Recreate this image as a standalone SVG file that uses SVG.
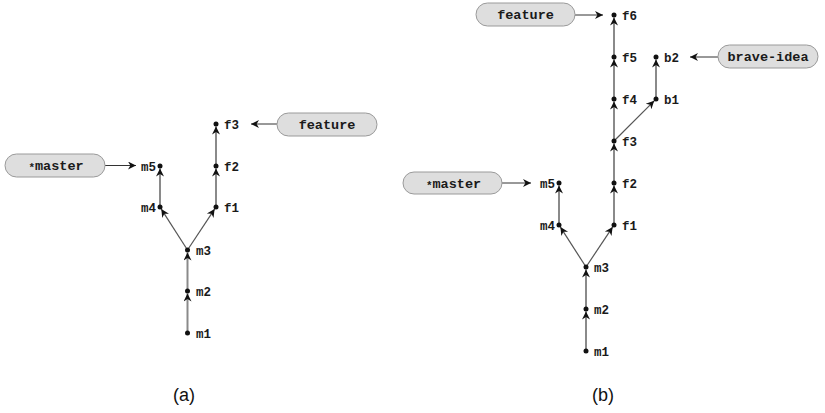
<svg xmlns="http://www.w3.org/2000/svg" width="825" height="413" viewBox="0 0 825 413">
<style>
.pill{fill:#dedede;stroke:#9a9a9a;stroke-width:1}
.pt{font-family:"Liberation Mono","DejaVu Sans Mono",monospace;font-weight:bold;font-size:13.5px;fill:#1a1a1a;text-anchor:middle}
.st{font-size:11px}
.nl{font-family:"Liberation Mono","DejaVu Sans Mono",monospace;font-weight:bold;font-size:12.5px;fill:#1a1a1a}
.nl.l{text-anchor:end}
.dot{fill:#111}
.v{stroke:#8a8a8a;stroke-width:2;fill:none}
.d{stroke:#555;stroke-width:1.2;fill:none}
.p{stroke:#333;stroke-width:1;fill:none}
.cap{font-family:"Liberation Sans",Arial,sans-serif;font-size:18px;fill:#111;text-anchor:middle}
</style>
<defs>
<marker id="ah" markerUnits="userSpaceOnUse" markerWidth="10" markerHeight="8" viewBox="0 0 10 10" refX="10" refY="5" orient="auto">
<path d="M0,0 L10,5 L0,10 L3,5 z" fill="#111"/>
</marker>
</defs>
<rect width="825" height="413" fill="#fff"/>

<g id="connectors">
<!-- (a) -->
<line class="v" x1="187.5" y1="333" x2="187.5" y2="293.5" marker-end="url(#ah)"/>
<line class="v" x1="187.5" y1="291" x2="187.5" y2="252.5" marker-end="url(#ah)"/>
<line class="d" x1="187.5" y1="250" x2="161.3" y2="209.1" marker-end="url(#ah)"/>
<line class="d" x1="187.5" y1="250" x2="214.6" y2="209.1" marker-end="url(#ah)"/>
<line class="v" x1="160" y1="207" x2="160" y2="168.5" marker-end="url(#ah)"/>
<line class="v" x1="216" y1="207" x2="216" y2="168.5" marker-end="url(#ah)"/>
<line class="v" x1="216" y1="166" x2="216" y2="126.5" marker-end="url(#ah)"/>
<line class="p" x1="277" y1="124" x2="251" y2="124" marker-end="url(#ah)"/>
<line class="p" x1="105" y1="165.5" x2="136" y2="165.5" marker-end="url(#ah)"/>
<!-- (b) -->
<line class="v" x1="586" y1="351" x2="586" y2="311.5" marker-end="url(#ah)"/>
<line class="v" x1="586" y1="309" x2="586" y2="269.5" marker-end="url(#ah)"/>
<line class="d" x1="586" y1="267" x2="560.4" y2="227.1" marker-end="url(#ah)"/>
<line class="d" x1="586" y1="267" x2="612.6" y2="227.1" marker-end="url(#ah)"/>
<line class="v" x1="559" y1="225" x2="559" y2="185.5" marker-end="url(#ah)"/>
<line class="v" x1="614" y1="225" x2="614" y2="185.5" marker-end="url(#ah)"/>
<line class="v" x1="614" y1="183" x2="614" y2="143.5" marker-end="url(#ah)"/>
<line class="v" x1="614" y1="141" x2="614" y2="101.5" marker-end="url(#ah)"/>
<line class="v" x1="614" y1="99" x2="614" y2="59.5" marker-end="url(#ah)"/>
<line class="v" x1="614" y1="57" x2="614" y2="17.5" marker-end="url(#ah)"/>
<line class="d" x1="614" y1="141" x2="654.2" y2="100.8" marker-end="url(#ah)"/>
<line class="v" x1="656" y1="99" x2="656" y2="59.5" marker-end="url(#ah)"/>
<line class="p" x1="575" y1="15" x2="603" y2="15" marker-end="url(#ah)"/>
<line class="p" x1="718" y1="57" x2="690" y2="57" marker-end="url(#ah)"/>
<line class="p" x1="502" y1="183" x2="531" y2="183" marker-end="url(#ah)"/>
</g>

<!-- (a) nodes -->
<g id="a-m1"><circle class="dot" cx="187.5" cy="333" r="2.5"/><text class="nl" x="196" y="337.5">m1</text></g>
<g id="a-m2"><circle class="dot" cx="187.5" cy="291" r="2.5"/><text class="nl" x="196" y="295.5">m2</text></g>
<g id="a-m3"><circle class="dot" cx="187.5" cy="250" r="2.5"/><text class="nl" x="196" y="254.5">m3</text></g>
<g id="a-m4"><circle class="dot" cx="160" cy="207" r="2.5"/><text class="nl l" x="156" y="211.5">m4</text></g>
<g id="a-m5"><circle class="dot" cx="160" cy="166" r="2.5"/><text class="nl l" x="156" y="170.5">m5</text></g>
<g id="a-f1"><circle class="dot" cx="216" cy="207" r="2.5"/><text class="nl" x="224" y="211.5">f1</text></g>
<g id="a-f2"><circle class="dot" cx="216" cy="166" r="2.5"/><text class="nl" x="224" y="170.5">f2</text></g>
<g id="a-f3"><circle class="dot" cx="216" cy="124" r="2.5"/><text class="nl" x="224" y="128.5">f3</text></g>
<g id="a-feature"><rect class="pill" x="277" y="113" width="100" height="23" rx="11.5"/><text class="pt" x="327" y="129">feature</text></g>
<g id="a-master"><rect class="pill" x="5" y="154" width="100" height="23" rx="11.5"/><text class="pt" x="56" y="170"><tspan class="st" dy="1">*</tspan><tspan dy="-1">master</tspan></text></g>

<!-- (b) nodes -->
<g id="b-m1"><circle class="dot" cx="586" cy="351" r="2.5"/><text class="nl" x="594" y="355.5">m1</text></g>
<g id="b-m2"><circle class="dot" cx="586" cy="309" r="2.5"/><text class="nl" x="594" y="313.5">m2</text></g>
<g id="b-m3"><circle class="dot" cx="586" cy="267" r="2.5"/><text class="nl" x="594" y="271.5">m3</text></g>
<g id="b-m4"><circle class="dot" cx="559" cy="225" r="2.5"/><text class="nl l" x="555" y="229.5">m4</text></g>
<g id="b-m5"><circle class="dot" cx="559" cy="183" r="2.5"/><text class="nl l" x="555" y="187.5">m5</text></g>
<g id="b-f1"><circle class="dot" cx="614" cy="225" r="2.5"/><text class="nl" x="622" y="229.5">f1</text></g>
<g id="b-f2"><circle class="dot" cx="614" cy="183" r="2.5"/><text class="nl" x="622" y="187.5">f2</text></g>
<g id="b-f3"><circle class="dot" cx="614" cy="141" r="2.5"/><text class="nl" x="622" y="145.5">f3</text></g>
<g id="b-f4"><circle class="dot" cx="614" cy="99" r="2.5"/><text class="nl" x="622" y="103.5">f4</text></g>
<g id="b-f5"><circle class="dot" cx="614" cy="57" r="2.5"/><text class="nl" x="622" y="61.5">f5</text></g>
<g id="b-f6"><circle class="dot" cx="614" cy="15" r="2.5"/><text class="nl" x="622" y="19.5">f6</text></g>
<g id="b-b1"><circle class="dot" cx="656" cy="99" r="2.5"/><text class="nl" x="664" y="103.5">b1</text></g>
<g id="b-b2"><circle class="dot" cx="656" cy="57" r="2.5"/><text class="nl" x="664" y="61.5">b2</text></g>
<g id="b-feature"><rect class="pill" x="476" y="3" width="99" height="23" rx="11.5"/><text class="pt" x="525.5" y="19">feature</text></g>
<g id="b-brave-idea"><rect class="pill" x="718" y="45" width="100" height="23" rx="11.5"/><text class="pt" x="768" y="61">brave-idea</text></g>
<g id="b-master"><rect class="pill" x="403" y="172" width="99" height="22" rx="11"/><text class="pt" x="453.5" y="187.5"><tspan class="st" dy="1">*</tspan><tspan dy="-1">master</tspan></text></g>

<text class="cap" x="184" y="401">(a)</text>
<text class="cap" x="603" y="401">(b)</text>
</svg>
